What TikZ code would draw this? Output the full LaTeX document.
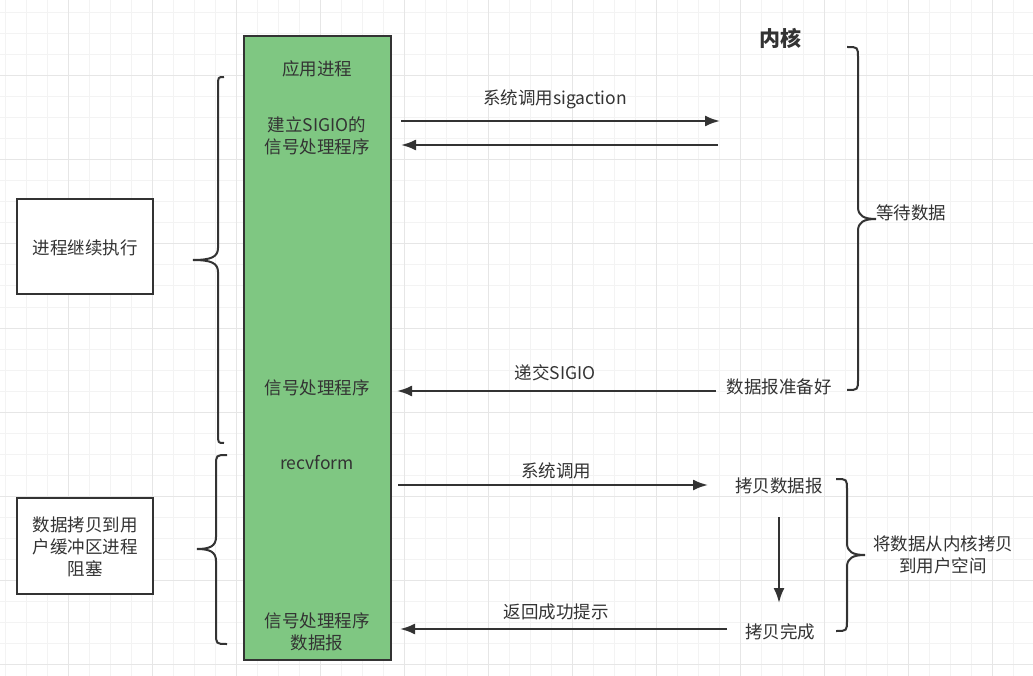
\documentclass[tikz,border=0pt]{standalone}
\usepackage{fontspec}
\setmainfont{Noto Sans CJK SC}
\usetikzlibrary{arrows.meta}
\definecolor{procgreen}{RGB}{127,199,130}
\definecolor{inkgray}{RGB}{51,51,51}
\definecolor{gridminor}{RGB}{243,243,243}
\definecolor{gridmajor}{RGB}{230,230,230}

\begin{document}
\begin{tikzpicture}[x=1pt,y=-1pt,>={Latex[length=15pt,width=11pt]},
	every node/.style={text=inkgray,font=\fontsize{17.5}{22}\selectfont,align=center,inner sep=0pt},
	msg/.style={draw=inkgray,line width=2.2pt,->},
	brace/.style={draw=inkgray,line width=2pt},
	sidebox/.style={draw=inkgray,line width=2pt,fill=white}]
	\useasboundingbox (0,0) rectangle (1033,676);
	\fill[white] (0,0) rectangle (1033,676);

	% grid
	\foreach \x in {5,26,...,1033} \draw[gridminor,line width=1pt] (\x,0) -- (\x,676);
	\foreach \y in {13,34,...,676} \draw[gridminor,line width=1pt] (0,\y) -- (1033,\y);
	\foreach \x in {68,152,...,1033} \draw[gridmajor,line width=1pt] (\x,0) -- (\x,676);
	\foreach \y in {76,160,...,676} \draw[gridmajor,line width=1pt] (0,\y) -- (1033,\y);

	% application process
	\draw[draw=inkgray,fill=procgreen,line width=2pt] (244,36) rectangle (391,660);
	\node (P0) at (317,69) {应用进程};
	\node (P1) at (317,136) {建立SIGIO的\\信号处理程序};
	\node (P2) at (317,388) {信号处理程序};
	\node (P3) at (317,463) {recvform};
	\node (P4) at (317,632) {信号处理程序\\数据报};

	% left side
	\draw[sidebox] (17,199) rectangle (153,294);
	\node (L1) at (85,248) {进程继续执行};
	\draw[sidebox] (17,498) rectangle (153,594);
	\node (L2) at (85,547) {数据拷贝到用\\户缓冲区进程\\阻塞};

	\draw[brace] (224,77) .. controls (218,77) .. (218,86) -- (218,248) .. controls (218,257) and (211,260) .. (193,260)
		.. controls (211,260) and (218,263) .. (218,272) -- (218,434) .. controls (218,443) .. (224,443);
	\draw[brace] (227,455) .. controls (216,455) .. (216,466) -- (216,537) .. controls (216,546) and (210,549) .. (197,549)
		.. controls (210,549) and (216,552) .. (216,561) -- (216,633) .. controls (216,644) .. (227,644);

	% kernel
	\node[font=\fontsize{21}{24}\selectfont\bfseries] (K) at (780,38) {内核};
	\node (K1) at (779,387) {数据报准备好};
	\node (K2) at (779,486) {拷贝数据报};
	\node (K3) at (780,632) {拷贝完成};

	\draw[brace] (847,47) .. controls (858,47) .. (858,58) -- (858,207) .. controls (858,216) and (864,219) .. (876,219)
		.. controls (864,219) and (858,222) .. (858,231) -- (858,379) .. controls (858,390) .. (847,390);
	\node (W1) at (911,213) {等待数据};
	\draw[brace] (836,479) .. controls (847,479) .. (847,490) -- (847,543) .. controls (847,552) and (853,555) .. (865,555)
		.. controls (853,555) and (847,558) .. (847,567) -- (847,620) .. controls (847,631) .. (836,631);
	\node (W2) at (943,555) {将数据从内核拷贝\\到用户空间};

	% messages
	\coordinate (A1) at (401,121);
	\coordinate (B1) at (720,121);
	\coordinate (A2) at (401,145);
	\coordinate (B2) at (718,145);
	\coordinate (A3) at (397,391);
	\coordinate (B3) at (716,391);
	\coordinate (A4) at (398,485);
	\coordinate (B4) at (708,485);
	\coordinate (C1) at (779,517);
	\coordinate (C2) at (779,603);
	\coordinate (A6) at (400,629);
	\coordinate (B6) at (727,629);

	\draw[msg] (A1) -- (B1);
	\node (M1) at (555,99) {系统调用sigaction};
	\draw[msg] (B2) -- (A2);
	\draw[msg] (B3) -- (A3);
	\node (M3) at (555,373) {递交SIGIO};
	\draw[msg] (A4) -- (B4);
	\node (M4) at (556,471) {系统调用};
	\draw[msg] (C1) -- (C2);
	\draw[msg] (B6) -- (A6);
	\node (M6) at (556,612) {返回成功提示};
\end{tikzpicture}
\end{document}
